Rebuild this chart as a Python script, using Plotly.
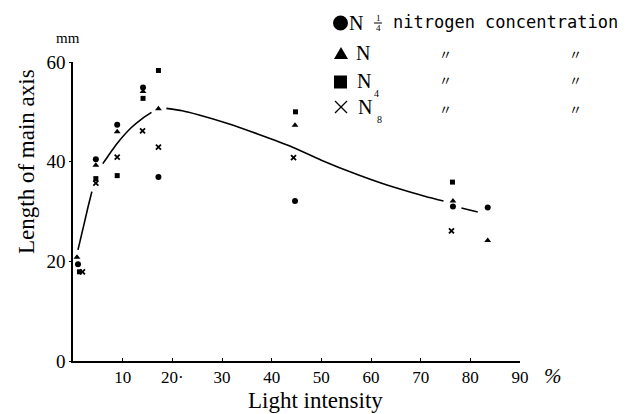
import plotly.graph_objects as go

# ---- data ----
n14_x = [1.0, 4.6, 8.9, 14.1, 17.2, 44.7, 76.5, 83.5]
n14_y = [19.4, 40.5, 47.4, 54.9, 36.9, 32.1, 31.0, 30.8]

n1_x = [0.8, 4.6, 8.9, 14.1, 17.2, 44.7, 76.5, 83.5]
n1_y = [20.8, 39.3, 46.0, 54.1, 50.6, 47.3, 32.1, 24.2]

n4_x = [1.3, 4.6, 8.9, 14.1, 17.2, 44.8, 76.4]
n4_y = [17.9, 36.6, 37.2, 52.7, 58.3, 50.0, 35.9]

n8_x = [1.9, 4.6, 8.9, 14.0, 17.2, 44.4, 76.2]
n8_y = [17.9, 35.7, 40.9, 46.2, 42.9, 40.8, 26.1]

# fitted curve (drawn with gaps where it passes the markers)
curve_x = [1.0, 2.0, 3.0, 3.8, None,
           6.0, 7.1, 9.0, 11.7, 14.0, 15.8, None,
           18.8, 22.0, 25.2, 31.3, 37.3, 44.0, 50.0, 57.5, 62.0, 67.5, 71.0, 74.6, None,
           78.2, 81.5]
curve_y = [22.3, 26.5, 30.8, 34.0, None,
           39.6, 41.2, 43.8, 46.8, 48.7, 49.9, None,
           50.7, 50.2, 49.4, 47.6, 45.5, 43.0, 40.3, 37.3, 35.7, 34.0, 33.0, 32.1, None,
           30.7, 29.9]

x_ticks = [10, 20, 30, 40, 50, 60, 70, 80, 90]
x_tick_labels = ["10", "20·", "30", "40", "50", "60", "70", "80", "90"]
y_ticks = [0, 20, 40, 60]

legend_names = ["N¼", "N", "N₄", "N₈"]

# ---- layout geometry (pixels) ----
W, H = 628, 414
L, R, T, B = 65, 116, 54, 61
PW = W - L - R
PH = H - T - B
BOTTOM = H - B

def px(x):
    return (x - L) / PW

def py(y):
    return (BOTTOM - y) / PH

SERIF = "Liberation Serif, Times New Roman, serif"

fig = go.Figure()
fig.add_trace(go.Scatter(x=curve_x, y=curve_y, mode="lines",
                         line=dict(color="black", width=1.6, shape="spline", smoothing=0.6),
                         connectgaps=False, showlegend=False, hoverinfo="skip"))
fig.add_trace(go.Scatter(x=n14_x, y=n14_y, mode="markers", name=legend_names[0],
                         marker=dict(symbol="circle", size=6, color="black"), showlegend=False))
fig.add_trace(go.Scatter(x=n1_x, y=n1_y, mode="markers", name=legend_names[1],
                         marker=dict(symbol="triangle-up", size=6, color="black"), showlegend=False))
fig.add_trace(go.Scatter(x=n4_x, y=n4_y, mode="markers", name=legend_names[2],
                         marker=dict(symbol="square", size=5, color="black"), showlegend=False))
fig.add_trace(go.Scatter(x=n8_x, y=n8_y, mode="markers", name=legend_names[3],
                         marker=dict(symbol="x-thin", size=5, color="black",
                                     line=dict(color="black", width=1.8)), showlegend=False))

fig.update_xaxes(range=[0, 90], tickvals=x_ticks, ticktext=x_tick_labels,
                 showgrid=False, zeroline=False, showline=True, linecolor="black", linewidth=1.5,
                 ticks="inside", ticklen=3, tickcolor="black",
                 tickfont=dict(family=SERIF, size=17, color="black"))
fig.update_yaxes(range=[0, 60], tickvals=y_ticks,
                 showgrid=False, zeroline=False, showline=True, linecolor="black", linewidth=1.5,
                 ticks="outside", ticklen=2, tickcolor="black",
                 tickfont=dict(family=SERIF, size=19, color="black"))

ann = []
def text(x, y, s, size, family=SERIF, xanchor="center", **kw):
    ann.append(dict(x=px(x), y=py(y), xref="paper", yref="paper", text=s, showarrow=False,
                    xanchor=xanchor, yanchor="middle",
                    font=dict(family=family, size=size, color="black"), **kw))

text(60, 30, "mm", 15)
text(18, 154, "Length of main axis", 23, textangle=-90)
text(307, 392, "Light intensity", 23)
text(545, 368, "<i>%</i>", 21)

# legend texts
text(348, 15, "N", 20)
text(370, 10, "1", 9)
text(370, 20, "4", 9)
text(355, 45, "N", 20)
text(356, 73, "N", 20)
text(368, 85, "4", 10)
text(357, 99, "N", 20)
text(371, 111, "8", 10)
text(383, 14, "nitrogen concentration", 17, family="DejaVu Sans Mono, monospace", xanchor="left")
for yy in [45, 72, 100]:
    text(437, yy, "〃", 13, family="Noto Sans CJK JP")
    text(567, yy, "〃", 13, family="Noto Sans CJK JP")

shapes = []
# fraction bar
shapes.append(dict(type="line", xref="paper", yref="paper", x0=px(366), x1=px(374), y0=py(15), y1=py(15),
                   line=dict(color="black", width=1)))
# circle
shapes.append(dict(type="circle", xref="paper", yref="paper", x0=px(325), x1=px(340), y0=py(22.5), y1=py(7.5),
                   fillcolor="black", line=dict(color="black", width=0)))
# triangle
shapes.append(dict(type="path", xref="paper", yref="paper",
                   path=f"M {px(326)} {py(51)} L {px(340)} {py(51)} L {px(333)} {py(39)} Z",
                   fillcolor="black", line=dict(color="black", width=0)))
# square
shapes.append(dict(type="rect", xref="paper", yref="paper", x0=px(326), x1=px(339), y0=py(80.5), y1=py(67.5),
                   fillcolor="black", line=dict(color="black", width=0)))
# cross
shapes.append(dict(type="line", xref="paper", yref="paper", x0=px(327), x1=px(339), y0=py(93), y1=py(105),
                   line=dict(color="black", width=1.3)))
shapes.append(dict(type="line", xref="paper", yref="paper", x0=px(327), x1=px(339), y0=py(105), y1=py(93),
                   line=dict(color="black", width=1.3)))

fig.update_layout(width=W, height=H, margin=dict(l=L, r=R, t=T, b=B, pad=0),
                  paper_bgcolor="white", plot_bgcolor="white",
                  annotations=ann, shapes=shapes, showlegend=False)

fig.write_html("out.html")
